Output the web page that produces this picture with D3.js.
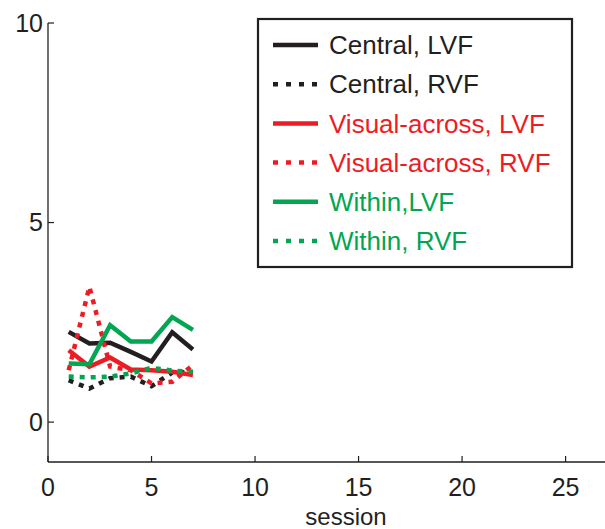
<!DOCTYPE html>
<html>
<head>
<meta charset="utf-8">
<script src="https://cdn.jsdelivr.net/npm/d3@7"></script>
<style>
  html, body { margin: 0; padding: 0; background: #fff; }
  svg { display: block; font-family: "Liberation Sans", Arial, sans-serif; }
</style>
</head>
<body>
<svg id="chart" width="605" height="529"></svg>
<script>
// Sessions on the x axis
const sessions = [1, 2, 3, 4, 5, 6, 7];

// Series values per session
const centralLVF      = [2.26, 1.97, 1.99, 1.76, 1.52, 2.25, 1.82];
const centralRVF      = [1.05, 0.84, 1.10, 1.14, 0.90, 1.24, 1.25];
const visualAcrossLVF = [1.80, 1.39, 1.62, 1.32, 1.30, 1.26, 1.18];
const visualAcrossRVF = [1.30, 3.39, 1.39, 1.30, 0.97, 1.01, 1.43];
const withinLVF       = [1.47, 1.45, 2.43, 2.02, 2.02, 2.63, 2.31];
const withinRVF       = [1.14, 1.12, 1.14, 1.22, 1.36, 1.29, 1.26];

const seriesNames = ["Central, LVF", "Central, RVF", "Visual-across, LVF",
                     "Visual-across, RVF", "Within,LVF", "Within, RVF"];

// Tick labels
const xTicks = [0, 5, 10, 15, 20, 25];
const yTicks = [0, 5, 10];
const xLabel = "session";

const BLACK = "#231f20", RED = "#ed1c24", GREEN = "#00a651";

const series = [
  { name: seriesNames[0], values: centralLVF,      color: BLACK, dotted: false },
  { name: seriesNames[1], values: centralRVF,      color: BLACK, dotted: true },
  { name: seriesNames[2], values: visualAcrossLVF, color: RED,   dotted: false },
  { name: seriesNames[3], values: visualAcrossRVF, color: RED,   dotted: true },
  { name: seriesNames[4], values: withinLVF,       color: GREEN, dotted: false },
  { name: seriesNames[5], values: withinRVF,       color: GREEN, dotted: true }
];

const svg = d3.select("#chart");

const x = d3.scaleLinear().domain([0, 27]).range([48, 607]);
const y = d3.scaleLinear().domain([-1, 10]).range([462, 23]);

const axisColor = "#231f20";

// Axis lines (left and bottom only)
svg.append("line")
  .attr("x1", x(0)).attr("x2", x(0))
  .attr("y1", y(10)).attr("y2", y(-1))
  .attr("stroke", axisColor).attr("stroke-width", 1.3);
svg.append("line")
  .attr("x1", x(0)).attr("x2", x(27))
  .attr("y1", y(-1)).attr("y2", y(-1))
  .attr("stroke", axisColor).attr("stroke-width", 1.3);

// Y ticks and labels
const yg = svg.append("g");
yg.selectAll("line").data(yTicks).join("line")
  .attr("x1", x(0)).attr("x2", x(0) + 6)
  .attr("y1", d => y(d)).attr("y2", d => y(d))
  .attr("stroke", axisColor).attr("stroke-width", 1.2);
yg.selectAll("text").data(yTicks).join("text")
  .attr("x", x(0) - 5).attr("y", d => y(d))
  .attr("dy", "0.35em")
  .attr("text-anchor", "end")
  .attr("font-size", 25)
  .attr("fill", axisColor)
  .text(d => d);

// X ticks and labels
const xg = svg.append("g");
xg.selectAll("line").data(xTicks).join("line")
  .attr("x1", d => x(d)).attr("x2", d => x(d))
  .attr("y1", y(-1)).attr("y2", y(-1) - 6)
  .attr("stroke", axisColor).attr("stroke-width", 1.2);
xg.selectAll("text").data(xTicks).join("text")
  .attr("x", d => x(d)).attr("y", y(-1) + 34)
  .attr("text-anchor", "middle")
  .attr("font-size", 25)
  .attr("fill", axisColor)
  .text(d => d);

svg.append("text")
  .attr("x", 346).attr("y", 525)
  .attr("text-anchor", "middle")
  .attr("font-size", 24)
  .attr("fill", axisColor)
  .text(xLabel);

// Data lines
const line = d3.line()
  .x((d, i) => x(sessions[i]))
  .y(d => y(d));

const lineG = svg.append("g");
series.forEach(s => {
  lineG.append("path")
    .datum(s.values)
    .attr("d", line)
    .attr("fill", "none")
    .attr("stroke", s.color)
    .attr("stroke-width", 4.5)
    .attr("stroke-linejoin", "miter")
    .attr("stroke-dasharray", s.dotted ? "5,6" : null);
});

// Legend
const legend = svg.append("g");
legend.append("rect")
  .attr("x", 258).attr("y", 19)
  .attr("width", 314).attr("height", 248)
  .attr("fill", "#fff")
  .attr("stroke", BLACK).attr("stroke-width", 2.2);

const rowY = d3.scaleLinear().domain([0, 5]).range([45, 241]);
series.forEach((s, i) => {
  const yy = rowY(i);
  legend.append("line")
    .attr("x1", 273).attr("x2", 318)
    .attr("y1", yy).attr("y2", yy)
    .attr("stroke", s.color)
    .attr("stroke-width", 4.5)
    .attr("stroke-dasharray", s.dotted ? "5,8" : null);
  legend.append("text")
    .attr("x", 329).attr("y", yy)
    .attr("dy", "0.35em")
    .attr("font-size", 26)
    .attr("fill", s.color)
    .text(s.name);
});
</script>
</body>
</html>
